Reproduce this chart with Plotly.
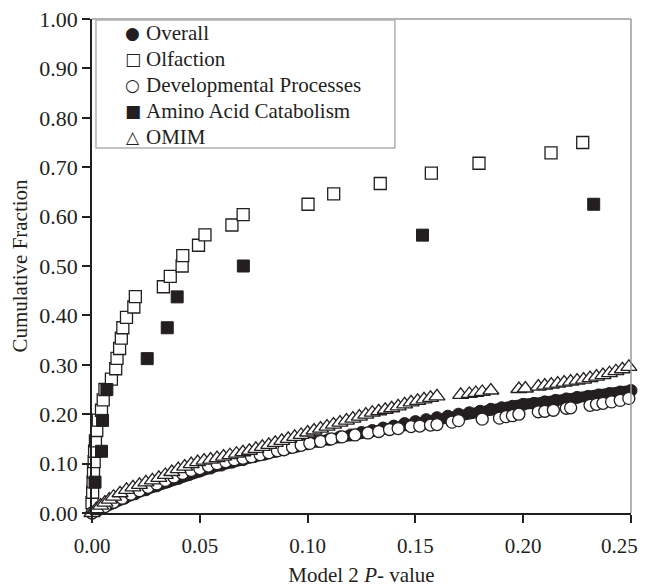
import plotly.graph_objects as go

# cumulative fraction vs Model 2 P-value
overall_p = [0.000, 0.005, 0.010, 0.015, 0.020, 0.025, 0.030, 0.035, 0.040, 0.045,
             0.050, 0.055, 0.060, 0.065, 0.070, 0.075, 0.080, 0.085, 0.090, 0.095,
             0.100, 0.105, 0.110, 0.115, 0.120, 0.125, 0.130, 0.135, 0.140, 0.145,
             0.150, 0.155, 0.160, 0.165, 0.170, 0.175, 0.180, 0.185, 0.190, 0.195,
             0.200, 0.205, 0.210, 0.215, 0.220, 0.225, 0.230, 0.235, 0.240, 0.245,
             0.250]
overall_frac = [0.000, 0.011, 0.021, 0.030, 0.039, 0.047, 0.055, 0.063, 0.070, 0.078,
                0.085, 0.091, 0.097, 0.103, 0.108, 0.114, 0.119, 0.125, 0.130, 0.135,
                0.140, 0.145, 0.149, 0.154, 0.158, 0.163, 0.167, 0.172, 0.176, 0.181,
                0.185, 0.189, 0.193, 0.196, 0.200, 0.203, 0.206, 0.210, 0.213, 0.216,
                0.220, 0.222, 0.225, 0.228, 0.231, 0.234, 0.236, 0.239, 0.242, 0.245,
                0.248]

olfaction_p = [0.0000, 0.0003, 0.0005, 0.0007, 0.0010, 0.0012, 0.0016, 0.0022, 0.0029,
               0.0044, 0.0052, 0.0060, 0.0090, 0.0110, 0.0116, 0.0128, 0.0136, 0.0143,
               0.0160, 0.0194, 0.0201, 0.0331, 0.0363, 0.0418, 0.0421, 0.0494, 0.0524,
               0.0649, 0.0701, 0.1002, 0.1121, 0.1337, 0.1574, 0.1795, 0.2129, 0.2276]
olfaction_frac = [0.021, 0.042, 0.063, 0.083, 0.104, 0.125, 0.146, 0.167, 0.188,
                  0.208, 0.229, 0.250, 0.271, 0.292, 0.313, 0.333, 0.354, 0.375,
                  0.396, 0.417, 0.438, 0.458, 0.479, 0.500, 0.521, 0.542, 0.563,
                  0.583, 0.604, 0.625, 0.646, 0.667, 0.688, 0.708, 0.729, 0.750]

devel_p = [0.000, 0.003, 0.006, 0.010, 0.014, 0.018, 0.022, 0.026, 0.030, 0.034,
           0.038, 0.042, 0.046, 0.050, 0.054, 0.058, 0.062, 0.066, 0.070, 0.074,
           0.078, 0.082, 0.086, 0.089, 0.093, 0.097, 0.101, 0.106, 0.111, 0.116,
           0.122, 0.128, 0.133, 0.138, 0.142, 0.148, 0.152, 0.157, 0.160, 0.167,
           0.170, 0.181, 0.189, 0.192, 0.195, 0.198, 0.207, 0.210, 0.214, 0.220,
           0.222, 0.231, 0.234, 0.237, 0.241, 0.245, 0.249]
devel_frac = [0.000, 0.007, 0.013, 0.022, 0.030, 0.038, 0.045, 0.052, 0.059, 0.066,
              0.073, 0.080, 0.086, 0.090, 0.095, 0.100, 0.104, 0.108, 0.111, 0.114,
              0.118, 0.122, 0.126, 0.128, 0.133, 0.137, 0.141, 0.145, 0.150, 0.154,
              0.158, 0.162, 0.165, 0.169, 0.171, 0.175, 0.176, 0.178, 0.179, 0.184,
              0.187, 0.190, 0.192, 0.195, 0.197, 0.200, 0.205, 0.206, 0.208, 0.212,
              0.213, 0.218, 0.220, 0.222, 0.225, 0.228, 0.232]

amino_p = [0.0014, 0.0044, 0.0049, 0.0069, 0.0256, 0.0349, 0.0395, 0.0702, 0.1533, 0.2327]
amino_frac = [0.0625, 0.125, 0.1875, 0.25, 0.3125, 0.375, 0.4375, 0.5, 0.5625, 0.625]

omim_p = [0.000, 0.002, 0.004, 0.006, 0.008, 0.010, 0.013, 0.016, 0.019, 0.022,
          0.025, 0.028, 0.031, 0.034, 0.037, 0.040, 0.043, 0.046, 0.049, 0.052,
          0.055, 0.058, 0.061, 0.064, 0.067, 0.070, 0.073, 0.076, 0.079, 0.082,
          0.085, 0.088, 0.091, 0.094, 0.097, 0.100, 0.103, 0.106, 0.109, 0.112,
          0.115, 0.118, 0.121, 0.124, 0.127, 0.130, 0.133, 0.136, 0.139, 0.142,
          0.145, 0.148, 0.151, 0.154, 0.157, 0.160, 0.171, 0.175, 0.178, 0.181,
          0.185, 0.198, 0.201, 0.207, 0.210, 0.213, 0.216, 0.219, 0.222, 0.225,
          0.228, 0.231, 0.234, 0.237, 0.240, 0.243, 0.246, 0.249]
omim_frac = [0.000, 0.008, 0.015, 0.021, 0.027, 0.033, 0.040, 0.047, 0.052, 0.057,
             0.062, 0.066, 0.071, 0.077, 0.083, 0.089, 0.094, 0.099, 0.103, 0.106,
             0.108, 0.111, 0.114, 0.117, 0.120, 0.123, 0.126, 0.130, 0.134, 0.138,
             0.142, 0.146, 0.150, 0.154, 0.158, 0.163, 0.167, 0.171, 0.175, 0.179,
             0.183, 0.187, 0.191, 0.195, 0.199, 0.203, 0.206, 0.209, 0.212, 0.216,
             0.220, 0.224, 0.227, 0.230, 0.233, 0.236, 0.239, 0.241, 0.243, 0.245,
             0.248, 0.251, 0.252, 0.256, 0.258, 0.260, 0.262, 0.264, 0.266, 0.268,
             0.270, 0.273, 0.276, 0.279, 0.283, 0.287, 0.291, 0.296]

x_ticks = [0.00, 0.05, 0.10, 0.15, 0.20, 0.25]
x_ticktext = ["0.00", "0.05", "0.10", "0.15", "0.20", ""]
last_x_label = "0.25"

legend_symbols = ["\u25cf", "\u25a1", "\u25cb", "\u25a0", "\u25b3"]
legend_names = ["Overall", "Olfaction", "Developmental Processes",
                "Amino Acid Catabolism", "OMIM"]

INK = "#231f20"
FONT = "Liberation Serif"

fig = go.Figure()

# overall: dense filled circles that merge into a band
fig.add_trace(go.Scatter(
    x=overall_p, y=overall_frac, mode="lines", showlegend=False,
    line=dict(color=INK, width=11), hoverinfo="skip", cliponaxis=False,
))
fig.add_trace(go.Scatter(
    x=overall_p, y=overall_frac, mode="markers", name=legend_names[0],
    marker=dict(symbol="circle", size=12, color=INK, line=dict(color=INK, width=1)),
    cliponaxis=False,
))
fig.add_trace(go.Scatter(
    x=olfaction_p, y=olfaction_frac, mode="markers", name=legend_names[1],
    marker=dict(symbol="square", size=12, color="white", line=dict(color=INK, width=1.3)),
    cliponaxis=False,
))
fig.add_trace(go.Scatter(
    x=devel_p, y=devel_frac, mode="markers", name=legend_names[2],
    marker=dict(symbol="circle", size=12, color="white", line=dict(color=INK, width=1.3)),
    cliponaxis=False,
))
fig.add_trace(go.Scatter(
    x=amino_p, y=amino_frac, mode="markers", name=legend_names[3],
    marker=dict(symbol="square", size=12, color=INK, line=dict(color=INK, width=1)),
    cliponaxis=False,
))
fig.add_trace(go.Scatter(
    x=omim_p, y=omim_frac, mode="markers", name=legend_names[4],
    marker=dict(symbol="triangle-up", size=14, color="white", line=dict(color=INK, width=1.3)),
    cliponaxis=False,
))

axis_common = dict(
    showgrid=False, zeroline=False, showline=True, linecolor=INK, linewidth=1.5,
    ticks="outside", ticklen=8, tickwidth=1.5, tickcolor=INK, automargin=False,
    ticklabeloverflow="allow",
)

# legend drawn as text rows inside a grey box
annotations = []
for i, (sym, name) in enumerate(zip(legend_symbols, legend_names)):
    y = 0.9717 - i * 0.0526
    annotations.append(dict(xref="paper", yref="paper", x=0.076, y=y, text=sym,
                            showarrow=False, xanchor="center", yanchor="middle",
                            font=dict(family="DejaVu Sans", size=17, color=INK)))
    annotations.append(dict(xref="paper", yref="paper", x=0.096, y=y, text=name,
                            showarrow=False, xanchor="left", yanchor="middle",
                            font=dict(family=FONT, size=21, color=INK)))

# last x label pulled in a little so the page edge does not clip it
annotations.append(dict(xref="paper", yref="paper", x=1, y=0, text=last_x_label,
                        showarrow=False, xanchor="right", yanchor="top",
                        xshift=9, yshift=-19,
                        font=dict(family=FONT, size=21, color=INK)))

fig.update_layout(
    width=650, height=587,
    margin=dict(l=84, r=27, t=11, b=82),
    plot_bgcolor="white", paper_bgcolor="white",
    font=dict(family=FONT, size=21, color=INK),
    showlegend=False,
    xaxis=dict(range=[0, 0.25], tickvals=x_ticks, ticktext=x_ticktext,
               ticklabelstandoff=5, **axis_common,
               tickfont=dict(family=FONT, size=21, color=INK),
               title=dict(text="Model 2 <i>P</i>- value", standoff=10,
                          font=dict(family=FONT, size=21, color=INK))),
    yaxis=dict(range=[0, 1], dtick=0.1, tickformat=".2f", **axis_common,
               tickfont=dict(family=FONT, size=22, color=INK),
               title=dict(text="Cumulative Fraction", standoff=15,
                          font=dict(family=FONT, size=21, color=INK))),
    annotations=annotations,
    shapes=[
        # grey frame on top/right and around the legend
        dict(type="line", xref="paper", yref="paper", x0=0, x1=1, y0=1, y1=1,
             line=dict(color="#9a9a9a", width=1.5)),
        dict(type="line", xref="paper", yref="paper", x0=1, x1=1, y0=0, y1=1,
             line=dict(color="#9a9a9a", width=1.5)),
        dict(type="rect", xref="paper", yref="paper", x0=0.0074, x1=0.562,
             y0=0.739, y1=0.998, line=dict(color="#b0b0b0", width=1.5)),
    ],
)

fig.write_html("out.html")
